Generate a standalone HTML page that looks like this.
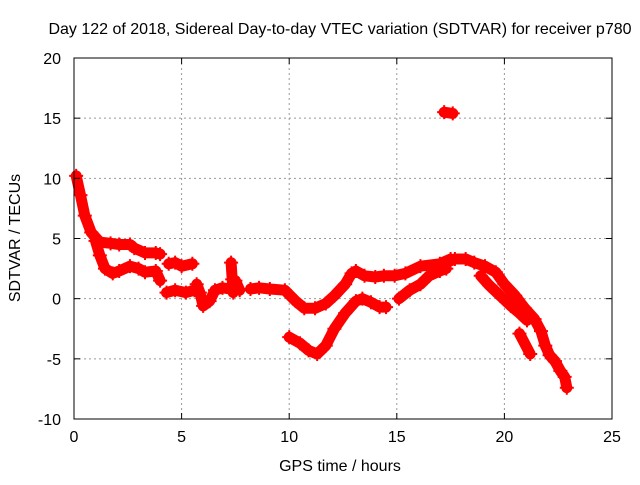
<!DOCTYPE html>
<html><head><meta charset="utf-8"><style>
body{margin:0;background:#fff}
svg text{font-family:"Liberation Sans",sans-serif;font-size:16px;fill:#000}
</style></head><body>
<svg id="chart" width="640" height="480">
<rect width="640" height="480" fill="#fff"/>
<text x="340" y="34" text-anchor="middle">Day 122 of 2018, Sidereal Day-to-day VTEC variation (SDTVAR) for receiver p780</text>
<text x="340" y="471" text-anchor="middle">GPS time / hours</text>
<text transform="translate(20,238) rotate(-90)" text-anchor="middle">SDTVAR / TECUs</text>
<g id="grid"></g><g id="marks"></g><g id="axes"></g>
</svg>
<script>
const xTicks=[0,5,10,15,20,25];
const yTicks=[-10,-5,0,5,10,15,20];
const trackATimes=[0.1,0.3,0.5,0.8,1.2,1.7,2.1,2.6,2.8,3.3,3.8,4.0];
const trackAValues=[10.2,8.6,6.9,5.5,4.7,4.6,4.5,4.5,4.2,3.8,3.8,3.7];
const trackBTimes=[1.0,1.2,1.44,1.8,2.1,2.6,3.0,3.3,3.8,4.0];
const trackBValues=[4.8,3.6,2.5,2.1,2.3,2.7,2.5,2.2,2.3,1.5];
const trackCTimes=[4.4,4.7,5.0,5.5];
const trackCValues=[2.9,3.0,2.7,2.9];
const trackDTimes=[4.3,4.7,5.2,5.6];
const trackDValues=[0.5,0.7,0.5,0.7];
const trackETimes=[5.7,5.85,6.0,6.3,6.55,6.9,7.25,7.5,7.7];
const trackEValues=[1.2,0.5,-0.6,-0.2,0.7,0.9,0.8,1.5,0.7];
const trackFTimes=[8.2,8.6,9.1,9.8,10.3,10.7,11.2,11.7,12.1,12.6,12.9,13.1,13.5,14.0,14.4,14.9,15.4,16.1,17.0,17.5];
const trackFValues=[0.8,0.9,0.8,0.7,-0.2,-0.8,-0.8,-0.4,0.25,1.2,2.1,2.3,1.9,1.8,1.9,1.9,2.1,2.7,2.9,3.3];
const trackGTimes=[10.0,10.5,10.9,11.3,11.7,12.1,12.6,13.1,13.4,13.8,14.2,14.5];
const trackGValues=[-3.2,-3.7,-4.3,-4.6,-3.9,-2.5,-1.2,-0.2,0,-0.3,-0.7,-0.7];
const trackHTimes=[15.1,15.6,16.1,16.5,17.0,17.3];
const trackHValues=[0,0.7,1.2,1.9,2.3,2.5];
const trackITimes=[17.3,17.7,18.2,18.6,19.1,19.6,20.0,20.5,20.95,21.4,21.7,21.9,22.1,22.35];
const trackIValues=[3.0,3.3,3.3,3.0,2.7,2.2,1.2,0.25,-0.8,-1.7,-2.7,-3.9,-4.7,-5.2];
const trackJTimes=[18.9,19.3,19.8,20.3,20.7,21.05];
const trackJValues=[1.9,1.1,0.25,-0.6,-1.2,-1.8];
const trackKTimes=[20.7,21.2];
const trackKValues=[-2.9,-4.6];
const trackLTimes=[22.35,22.6,22.8,22.9];
const trackLValues=[-5.2,-6.0,-6.5,-7.4];
const trackMTimes=[17.2,17.6];
const trackMValues=[15.5,15.4];
const trackNTimes=[7.3,7.35,7.4];
const trackNValues=[3.0,1.6,0.5];
const tracks=[[trackATimes,trackAValues],[trackBTimes,trackBValues],[trackCTimes,trackCValues],[trackDTimes,trackDValues],[trackETimes,trackEValues],[trackFTimes,trackFValues],[trackGTimes,trackGValues],[trackHTimes,trackHValues],[trackITimes,trackIValues],[trackJTimes,trackJValues],[trackKTimes,trackKValues],[trackLTimes,trackLValues],[trackMTimes,trackMValues],[trackNTimes,trackNValues]];
const L=74,R=612,T=58,B=419;
const sx=t=>L+(t-0)/25*(R-L);
const sy=v=>B-(v+10)/30*(B-T);
const NS="http://www.w3.org/2000/svg";
function mk(tag,attrs,parent){const e=document.createElementNS(NS,tag);for(const k in attrs)e.setAttribute(k,attrs[k]);parent.appendChild(e);return e;}
const grid=document.getElementById('grid'),axes=document.getElementById('axes'),marks=document.getElementById('marks');
xTicks.forEach(t=>{const x=sx(t);
 if(t>0&&t<25){const g=mk('line',{x1:x,x2:x,y1:T,y2:B,stroke:'#999','stroke-dasharray':'2,3'},grid);}
 mk('line',{x1:x,x2:x,y1:B,y2:B-6,stroke:'#000'},axes);mk('line',{x1:x,x2:x,y1:T,y2:T+6,stroke:'#000'},axes);
 const tx=mk('text',{x:x,y:B+23,'text-anchor':'middle'},axes);tx.textContent=t;
 });
yTicks.forEach(v=>{const y=sy(v);
 if(v>-10&&v<20){const g=mk('line',{x1:L,x2:R,y1:y,y2:y,stroke:'#999','stroke-dasharray':'2,3'},grid);}
 mk('line',{x1:L,x2:L+6,y1:y,y2:y,stroke:'#000'},axes);mk('line',{x1:R,x2:R-6,y1:y,y2:y,stroke:'#000'},axes);
 const tx=mk('text',{x:L-13,y:y+6,'text-anchor':'end'},axes);tx.textContent=v;
 });
const fr=mk('rect',{x:L,y:T,width:R-L,height:B-T,fill:'none',stroke:'#000'},axes);


tracks.forEach(([ts,vs])=>{
 let d='';ts.forEach((t,i)=>{d+=(i?'L':'M')+sx(t).toFixed(1)+' '+sy(vs[i]).toFixed(1);});
 const p=mk('path',{d:d,fill:'none',stroke:'#f00','stroke-width':11,'stroke-linejoin':'round','stroke-linecap':'round'},marks);
 
 
 ts.forEach((t,i)=>{const x=sx(t),y=sy(vs[i]);
  const m=mk('path',{d:`M${x-7} ${y}H${x+7}M${x} ${y-7}V${y+7}`,stroke:'#f00','stroke-width':2},marks);
  
  });
});
</script>
</body></html>
